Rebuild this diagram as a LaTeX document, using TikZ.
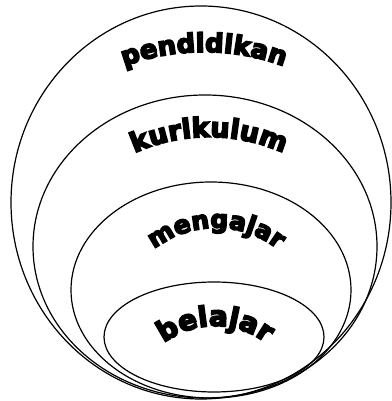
\documentclass[tikz,border=0pt]{standalone}
\usepackage{fontspec}
\usetikzlibrary{decorations.text}
\newfontfamily\archfont{DejaVu Sans Bold}[FakeBold=6]
\newcommand\wordfont[1]{\archfont\fontsize{#1}{#1}\selectfont}

\begin{document}
\begin{tikzpicture}[
    x=1pt, y=1pt,
    ring/.style={black, line width=1.2pt},
    arcword/.style 2 args={decorate, decoration={text along path,
                text align=center, text={|\wordfont{#1}|#2}}}
]
\useasboundingbox (0,0) rectangle (391,401);

% ---------- nested rings, all resting on the bottom ----------
\draw[ring] (201,198.5) ellipse [x radius=190, y radius=196.5];
\draw[ring] (205,154.5) ellipse [x radius=172, y radius=151.5];
\draw[ring] (211,111)   ellipse [x radius=140, y radius=108];
\draw[ring] (214,64)    ellipse [x radius=110, y radius=55];

% ---------- arched words ----------
\path[arcword={26}{pendidikan}] (204,119) ++(140:230) arc[start angle=140, end angle=40, radius=230];
\path[arcword={27}{kurikulum}]  (209,84)  ++(140:180) arc[start angle=140, end angle=40, radius=180];
\path[arcword={25}{mengajar}]   (216,73)  ++(160:100) arc[start angle=160, end angle=20, radius=100];
\path[arcword={28}{belajar}]    (215,-10) ++(160:85)  arc[start angle=160, end angle=20, radius=85];

\end{tikzpicture}
\end{document}
